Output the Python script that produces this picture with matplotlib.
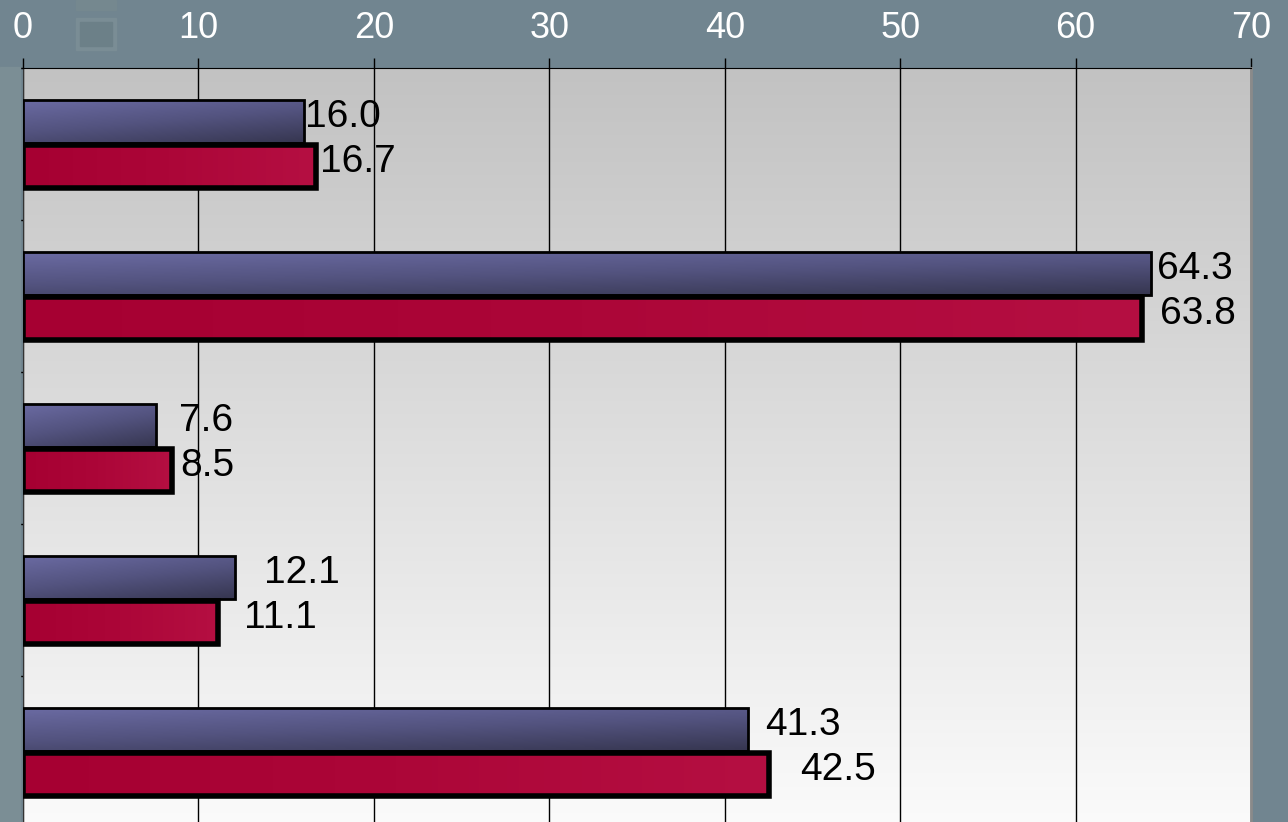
"""
Grouped horizontal bar chart with gradient fills, axis on top.
"""

import numpy as np
import matplotlib
matplotlib.use("Agg")
import matplotlib.pyplot as plt
from matplotlib.colors import LinearSegmentedColormap

# ---------------------------------------------------------------------------
# DATA
# ---------------------------------------------------------------------------
groups = ["A", "B", "C", "D", "E"]
series_blue = [16.0, 64.3, 7.6, 12.1, 41.3]
series_red = [16.7, 63.8, 8.5, 11.1, 42.5]
x_ticks = [0, 10, 20, 30, 40, 50, 60, 70]

# label offsets (points) to the right of each bar end, as in the original
off_blue = [1, 4, 16, 21, 13]
off_red = [3, 13, 6, 19, 23]

BG = "#718590"
FONT = "Liberation Sans"

fig = plt.figure(figsize=(12.88, 8.22), dpi=100)
fig.patch.set_facecolor(BG)

# faint decoration at the left/top of the slide background
fig.patches.append(plt.Rectangle((0, 0), 20 / 1288, 755 / 822, transform=fig.transFigure,
                                 color="#7b8e95", zorder=0))
fig.patches.append(plt.Rectangle((76 / 1288, 772 / 822), 40 / 1288, 32 / 822,
                                 transform=fig.transFigure, color="#7a8d95", zorder=0))
fig.patches.append(plt.Rectangle((80 / 1288, 776 / 822), 32 / 1288, 24 / 822,
                                 transform=fig.transFigure, color="#6c8088", zorder=0))
fig.patches.append(plt.Rectangle((76 / 1288, 812 / 822), 40 / 1288, 10 / 822,
                                 transform=fig.transFigure, color="#75888f", zorder=0))

ax = fig.add_axes([23 / 1288, 1 - 828 / 822, 1228 / 1288, 760 / 822])
ax.set_xlim(0, 70)
ax.set_ylim(4.5, -0.5)

# plot area vertical gradient (grey at top -> near white at bottom)
bg_cmap = LinearSegmentedColormap.from_list("bg", ["#c2c2c2", "#fbfbfb"])
ax.imshow(np.linspace(0, 1, 256).reshape(-1, 1), cmap=bg_cmap, aspect="auto",
          extent=(0, 70, 4.5, -0.5), zorder=0, interpolation="bilinear")

ax.set_xticks(x_ticks)
ax.grid(axis="x", color="black", lw=1, zorder=1)

y = np.arange(len(groups))
h = 0.285
blue_cmap = LinearSegmentedColormap.from_list("bl", ["#6b6ba3", "#53537f", "#363650"])
red_cmap = LinearSegmentedColormap.from_list("rd", ["#a60032", "#ac0638", "#b50f42"])

bars_b = ax.barh(y - h / 2 - 0.005, series_blue, height=h, color="none",
                 edgecolor="black", lw=2, zorder=4)
bars_r = ax.barh(y + h / 2 + 0.005, series_red, height=h, color="none",
                 edgecolor="black", lw=4, zorder=4)

# diagonal gradient for blue, horizontal for red
gx, gy = np.meshgrid(np.linspace(0, 1, 200), np.linspace(0, 1, 60))
diag = 0.35 * gx + 0.65 * gy
for bar in bars_b:
    x0, y0, w, hh = bar.get_x(), bar.get_y(), bar.get_width(), bar.get_height()
    im = ax.imshow(diag, cmap=blue_cmap, aspect="auto", extent=(x0, x0 + w, y0 + hh, y0),
                   zorder=3, interpolation="bilinear")
    im.set_clip_path(bar)
for bar in bars_r:
    x0, y0, w, hh = bar.get_x(), bar.get_y(), bar.get_width(), bar.get_height()
    im = ax.imshow(gx, cmap=red_cmap, aspect="auto", extent=(x0, x0 + w, y0 + hh, y0),
                   zorder=3, interpolation="bilinear")
    im.set_clip_path(bar)

ax.set_xlim(0, 70)
ax.set_ylim(4.5, -0.5)

for bar, v, o in zip(bars_b, series_blue, off_blue):
    ax.annotate(f"{v:.1f}", (v, bar.get_y() + bar.get_height() / 2), xytext=(o, 3),
                textcoords="offset points", va="center", ha="left",
                fontsize=28, family=FONT, color="black", zorder=5)
for bar, v, o in zip(bars_r, series_red, off_red):
    ax.annotate(f"{v:.1f}", (v, bar.get_y() + bar.get_height() / 2), xytext=(o, 3),
                textcoords="offset points", va="center", ha="left",
                fontsize=28, family=FONT, color="black", zorder=5)

# axes styling: ticks on top, white labels
ax.xaxis.tick_top()
ax.tick_params(axis="x", direction="out", length=7, width=1, color="black",
               labelcolor="white", labelsize=26, pad=9)
for lbl in ax.get_xticklabels():
    lbl.set_family(FONT)
ax.set_yticks(np.arange(-0.5, 5, 1))
ax.set_yticklabels([])
ax.tick_params(axis="y", direction="out", length=8, width=1, color="black")

ax.spines["top"].set_color("black")
ax.spines["left"].set_color("#333333")
ax.spines["right"].set_color("#8a8a8a")
ax.spines["right"].set_linewidth(2)
ax.spines["bottom"].set_visible(False)

fig.savefig("out.png", dpi=100, facecolor=fig.get_facecolor())
